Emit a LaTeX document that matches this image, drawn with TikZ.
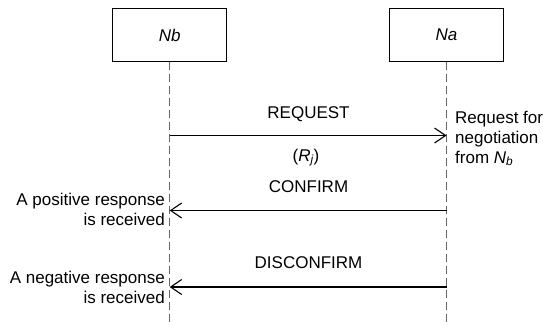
\documentclass[tikz,border=0pt]{standalone}
\usepackage{fontspec}
\setmainfont{Liberation Sans}
\usetikzlibrary{arrows.meta}
\begin{document}
\begin{tikzpicture}[x=1pt,y=-1pt,
  every node/.style={font=\fontsize{17}{20}\selectfont, inner sep=0pt},
  entity/.style={draw, line width=0.9pt, minimum width=114pt, minimum height=53.5pt, font=\fontsize{17}{20}\selectfont\itshape},
  lifeline/.style={draw=black!60, line width=1pt, dash pattern=on 8pt off 4pt},
  msg/.style={line width=1.1pt, -{Straight Barb[length=11pt,width=15pt]}},
  lbl/.style={anchor=base},
  noteR/.style={align=left, anchor=north west},
  noteL/.style={align=right, anchor=north east}
]
\useasboundingbox (0,0) rectangle (543,325);
\node[entity] (nb) at (169.7,35) {Nb};
\node[entity] (na) at (446.5,35) {Na};
\coordinate (nbend) at (169.7,325);
\coordinate (naend) at (446.5,325);
\draw[lifeline] (nb.south) -- (nbend);
\draw[lifeline] (na.south) -- (naend);
% message anchor points
\coordinate (nbReq) at (169.7,135.5);
\coordinate (naReq) at (446.5,135.5);
\coordinate (nbCon) at (169.7,210.5);
\coordinate (naCon) at (446.5,210.5);
\coordinate (nbDis) at (169.7,287);
\coordinate (naDis) at (446.5,287);
\draw[msg] (nbReq) -- (naReq);
\draw[msg] (naCon) -- (nbCon);
\draw[msg] (naDis) -- (nbDis);
\node[lbl] (lreq) at (308.5,118) {REQUEST};
\node[lbl] (lrj) at (306,161) {(\textit{R\textsubscript{j}})};
\node[lbl] (lcon) at (308.5,192) {CONFIRM};
\node[lbl] (ldis) at (308.5,268) {DISCONFIRM};
\node[noteR] (nreq) at (455,110.5) {Request for\\negotiation\\from \textit{N\textsubscript{b}}};
\node[noteL] (npos) at (165,192.5) {A positive response\\is received};
\node[noteL] (nneg) at (165,270.5) {A negative response\\is received};
\end{tikzpicture}
\end{document}
